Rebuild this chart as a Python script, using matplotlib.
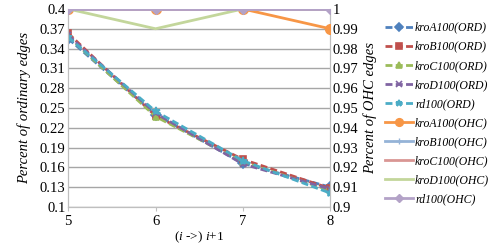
import matplotlib
matplotlib.use("Agg")
import matplotlib.pyplot as plt

plt.rcParams['font.family'] = ['Liberation Serif', 'DejaVu Serif']
plt.rcParams['mathtext.fontset'] = 'custom'
plt.rcParams['mathtext.rm'] = 'Liberation Serif'
plt.rcParams['mathtext.it'] = 'Liberation Serif:italic'

# data
steps = [5, 6, 7, 8]
ord_names = ['kroA100(ORD)', 'kroB100(ORD)', 'kroC100(ORD)', 'kroD100(ORD)', 'rd100(ORD)']
ord_vals = [
    [0.355, 0.240, 0.166, 0.130],
    [0.363, 0.238, 0.172, 0.128],
    [0.358, 0.237, 0.168, 0.125],
    [0.360, 0.242, 0.165, 0.127],
    [0.357, 0.245, 0.170, 0.121],
]
ohc_names = ['kroA100(OHC)', 'kroB100(OHC)', 'kroC100(OHC)', 'kroD100(OHC)', 'rd100(OHC)']
ohc_vals = [
    [1.0, 1.0, 1.0, 0.99],
    [1.0, 1.0, 1.0, 1.0],
    [1.0, 1.0, 1.0, 1.0],
    [1.0, 0.99, 1.0, 1.0],
    [1.0, 1.0, 1.0, 1.0],
]
left_ticks = [0.1, 0.13, 0.16, 0.19, 0.22, 0.25, 0.28, 0.31, 0.34, 0.37, 0.4]
right_ticks = [0.9, 0.91, 0.92, 0.93, 0.94, 0.95, 0.96, 0.97, 0.98, 0.99, 1.0]

ord_colors = ['#4F81BD', '#C0504D', '#9BBB59', '#8064A2', '#4BACC6']
ord_markers = ['D', 's', '^', 'x', '*']
ohc_colors = ['#F79646', '#95B3D7', '#D99694', '#C3D69B', '#B3A2C7']
ohc_markers = ['o', '+', None, None, 'D']

fig = plt.figure(figsize=(4.98, 2.49), dpi=100)
ax = fig.add_axes([0.137, 0.169, 0.526, 0.795])
ax2 = ax.twinx()

handles = []
for name, vals, c, m in zip(ord_names, ord_vals, ord_colors, ord_markers):
    ms = 5 if m != '*' else 6
    h, = ax.plot(steps, vals, color=c, lw=2, ls=(0, (2.5, 1.2)), marker=m,
                 ms=ms, mew=1.2, label=name, zorder=3)
    handles.append(h)
for name, vals, c, m in zip(ohc_names, ohc_vals, ohc_colors, ohc_markers):
    ms = 7 if m == 'o' else 5
    h, = ax2.plot(steps, vals, color=c, lw=2, marker=m, ms=ms, mew=1,
                  label=name, zorder=3)
    handles.append(h)

ax.set_xlim(5, 8)
ax.set_ylim(0.1, 0.4)
ax2.set_ylim(0.9, 1.0)
ax.set_xticks(steps)
ax.set_yticks(left_ticks)
ax.set_yticklabels([f'{v:g}' for v in left_ticks])
ax2.set_yticks(right_ticks)
ax2.set_yticklabels([f'{v:g}' for v in right_ticks])

ax.grid(axis='y', color='#A6A6A6', lw=1)
ax.set_axisbelow(True)
for a in (ax, ax2):
    for s in a.spines.values():
        s.set_color('#BFBFBF')
    a.spines['top'].set_visible(False)
    a.tick_params(labelsize=10.5, colors='black', length=0, pad=2)
    a.tick_params(axis='both', color='#BFBFBF')
ax.tick_params(axis='x', length=3, pad=3)

ax.set_ylabel('Percent of ordinary edges', style='italic', fontsize=10.5, labelpad=6)
ax2.set_ylabel('Percent of OHC edges', style='italic', fontsize=10.5, labelpad=3)
ax.set_xlabel(r'($\it{i}$ ->) $\it{i}$+1', fontsize=9.5, labelpad=1)

fig.legend(handles=handles, loc='center left', bbox_to_anchor=(0.773, 0.544),
           frameon=False, prop={'style': 'italic', 'size': 8.5},
           handlelength=2.4, labelspacing=0.6, handletextpad=0.15,
           borderaxespad=0, borderpad=0, markerscale=0.8)

fig.savefig('out.png', dpi=100)
